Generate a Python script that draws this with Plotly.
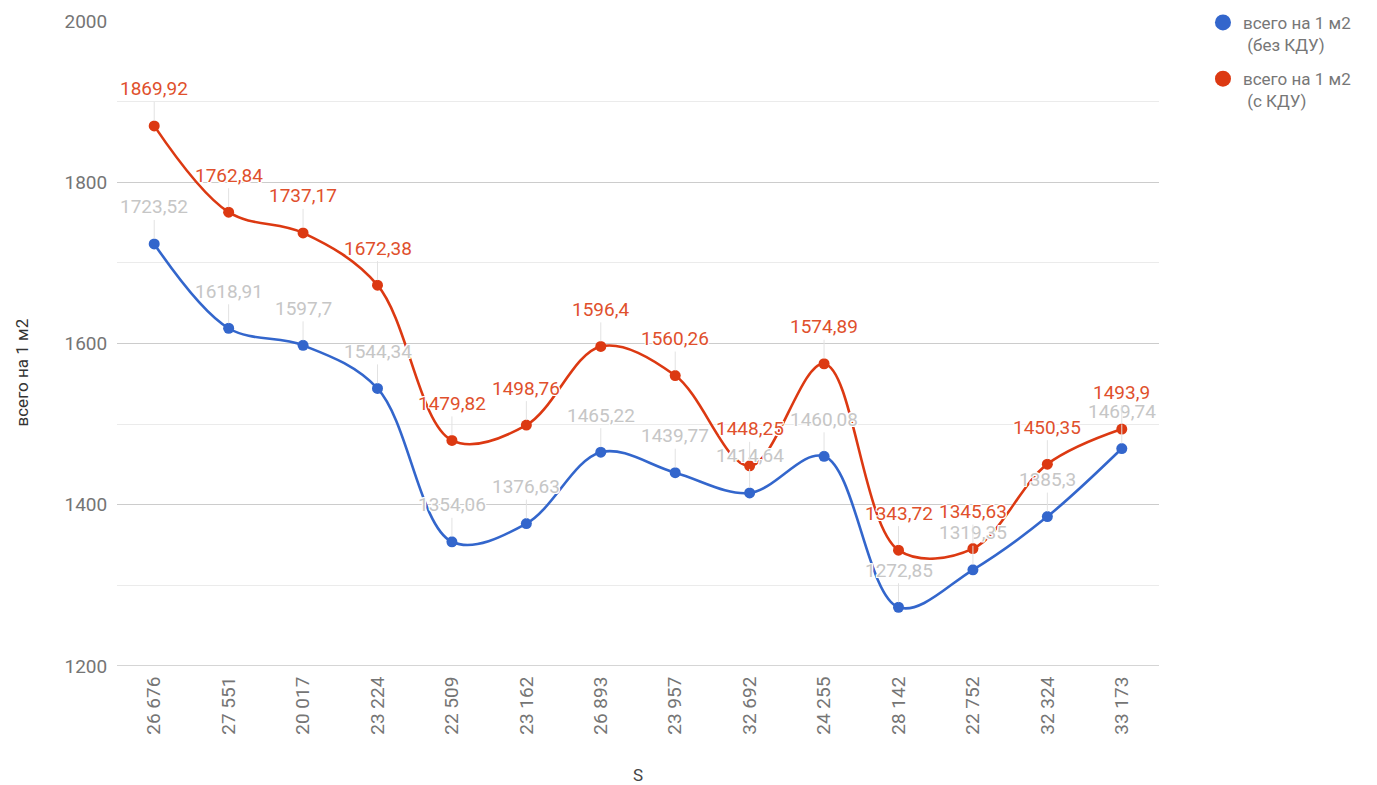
import plotly.graph_objects as go

categories = ["26 676", "27 551", "20 017", "23 224", "22 509", "23 162", "26 893",
              "23 957", "32 692", "24 255", "28 142", "22 752", "32 324", "33 173"]
bez_kdu = [1723.52, 1618.91, 1597.7, 1544.34, 1354.06, 1376.63, 1465.22,
           1439.77, 1414.64, 1460.08, 1272.85, 1319.35, 1385.3, 1469.74]
s_kdu = [1869.92, 1762.84, 1737.17, 1672.38, 1479.82, 1498.76, 1596.4,
         1560.26, 1448.25, 1574.89, 1343.72, 1345.63, 1450.35, 1493.9]
series_names = ["всего на 1 м2<br>\u00a0(без КДУ)", "всего на 1 м2<br>\u00a0(с КДУ)"]
y_ticks = [1200, 1400, 1600, 1800, 2000]
x_title = "S"
y_title = "всего на 1 м2"

BLUE = "#3366cc"
RED = "#dc3912"
FONT = "Roboto"

fig = go.Figure()

for vals, color in [(bez_kdu, BLUE), (s_kdu, RED)]:
    fig.add_trace(go.Scatter(
        x=categories, y=vals, mode="lines+markers",
        line=dict(color=color, width=2.6, shape="spline", smoothing=1.0),
        marker=dict(color=color, size=11),
        showlegend=False, hoverinfo="x+y",
    ))

# legend-only traces
for color, name, grp in [(BLUE, series_names[0], "a"), (RED, series_names[1], "b")]:
    fig.add_trace(go.Scatter(
        x=[None], y=[None], mode="markers", name=name, legendgroup=grp,
        marker=dict(color=color, size=16),
    ))

def fmt(v):
    s = ("%.2f" % v).rstrip("0").rstrip(".")
    return s.replace(".", ",")

halo = ("white 1px 1px 0px, white -1px -1px 0px, white 1px -1px 0px, white -1px 1px 0px, "
        "white 0px 1px 0px, white 0px -1px 0px, white 1px 0px 0px, white -1px 0px 0px")

annotations = []
for vals, color in [(bez_kdu, "#c6c6c6"), (s_kdu, "#e0502c")]:
    for c, v in zip(categories, vals):
        annotations.append(dict(
            x=c, y=v, xref="x", yref="y", text=fmt(v),
            showarrow=True, arrowhead=0, arrowwidth=1, arrowcolor="#e2e2e2",
            ax=0, ay=-37, standoff=5,
            font=dict(family=FONT, size=19, color=color, shadow=halo),
        ))

annotations.append(dict(
    text=x_title, xref="paper", yref="paper", x=0.5, y=-0.169,
    xanchor="center", yanchor="middle", showarrow=False,
    font=dict(family=FONT, size=17, color="#444"),
))
annotations.append(dict(
    text=y_title, xref="paper", yref="paper", x=-0.0912, y=0.455,
    xanchor="center", yanchor="middle", showarrow=False, textangle=-90,
    font=dict(family=FONT, size=17, color="#333"),
))

fig.update_layout(
    width=1369, height=777,
    margin=dict(l=109, r=218, t=13, b=119, autoexpand=False),
    paper_bgcolor="white", plot_bgcolor="white",
    font=dict(family=FONT, size=14, color="#444"),
    annotations=annotations,
    showlegend=True,
    legend=dict(
        x=1.0422, y=1.025, xanchor="left", yanchor="top",
        font=dict(family=FONT, size=17, color="#777"),
        traceorder="grouped", tracegroupgap=9, itemsizing="trace", valign="top",
    ),
    xaxis=dict(
        type="category", tickangle=-90, showgrid=False, showline=False,
        tickfont=dict(family=FONT, size=19, color="#757575"),
        ticks="outside", ticklen=2, tickcolor="rgba(0,0,0,0)",
        range=[-0.5, len(categories) - 0.5],
    ),
    yaxis=dict(
        range=[1200, 2000], tickvals=y_ticks,
        showgrid=True, gridcolor="#cccccc", gridwidth=1,
        minor=dict(dtick=100, showgrid=True, gridcolor="#ebebeb", gridwidth=1),
        zeroline=False, showline=False,
        tickfont=dict(family=FONT, size=19, color="#757575"),
        ticks="outside", ticklen=5, tickcolor="rgba(0,0,0,0)",
    ),
)

fig.add_shape(type="line", xref="paper", yref="y", x0=0, x1=1, y0=1200, y1=1200,
              line=dict(color="#aaaaaa", width=1), layer="below")

fig.write_html("out.html")
